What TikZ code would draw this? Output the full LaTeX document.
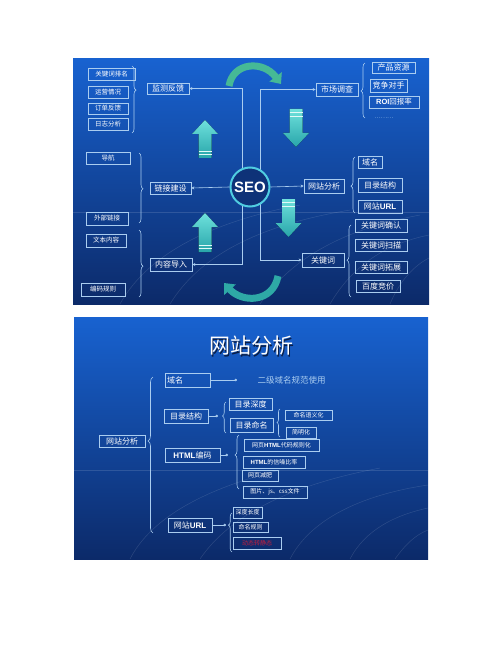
\documentclass[tikz,border=0pt]{standalone}
\usepackage{fontspec}
\setmainfont{Noto Sans CJK SC}
\newfontfamily\latinb{Liberation Sans}
\usetikzlibrary{arrows.meta,decorations.pathreplacing}
\definecolor{slideTop}{RGB}{24,98,208}
\definecolor{slideBot}{RGB}{12,42,105}
\definecolor{boxline}{RGB}{170,205,240}
\definecolor{arrowA}{RGB}{110,225,220}
\definecolor{arrowB}{RGB}{40,165,170}
\definecolor{curveA}{RGB}{70,185,150}
\definecolor{seofill}{RGB}{14,50,120}
\definecolor{seoline}{RGB}{80,205,225}
\definecolor{redtext}{RGB}{200,30,60}
\definecolor{titleshadow}{RGB}{10,30,70}
\begin{document}
\begin{tikzpicture}[x=1pt,y=-1pt,
  bx/.style 2 args={draw=boxline, line width=0.7pt, text=white, inner sep=0pt,
     minimum width=#1pt, minimum height=#2pt},
  fs/.style={font=\fontsize{6.5}{7}\selectfont},
  fm/.style={font=\fontsize{8}{9}\selectfont},
  fx/.style={font=\fontsize{6}{7}\selectfont},
  conn/.style={draw=boxline, line width=0.6pt},
  arr/.style={conn, -{Stealth[length=3pt,width=3pt]}},
  arrboth/.style={conn, {Stealth[length=3pt,width=3pt]}-{Stealth[length=3pt,width=3pt]}},
  dotarr/.style={conn, -{Circle[length=2.5pt]}},
  brc/.style={draw=boxline, line width=0.6pt, decorate, decoration={brace, amplitude=#1pt}},
  blk/.style={top color=arrowA, bottom color=arrowB, draw=none},
  stripe/.style={draw=white!80!arrowA, line width=0.8pt},
  curv/.style={draw=curveA, line width=7pt, -{Triangle[length=9pt,width=15pt]}},
  faint/.style={draw=white, opacity=0.13, line width=0.5pt}
]
\path[use as bounding box, fill=white] (0,0) rectangle (500,647);

% ================= TOP SLIDE =================
\fill[top color=slideTop, bottom color=slideBot] (73,59) rectangle (429,304);
\begin{scope}
\clip (73,59) rectangle (429,304);
\draw[faint] (73,212) -- (429,212);
\draw[faint] (120,304) .. controls (150,250) and (220,220) .. (300,205);
\draw[faint] (170,304) .. controls (200,255) and (260,225) .. (350,210);
\draw[faint] (260,304) .. controls (290,260) and (340,230) .. (420,215);
\draw[faint] (330,304) .. controls (350,270) and (380,245) .. (429,235);
\draw[faint] (390,304) .. controls (400,280) and (415,265) .. (429,258);
\end{scope}

% left groups
\node[bx={47}{12}, fs] (kw1) at (111.5,74) {关键词排名};
\node[bx={40}{12}, fs] (yy) at (108,92) {运营情况};
\node[bx={40}{11}, fs] (dd) at (108,108.5) {订单反馈};
\node[bx={40}{12}, fs] (rz) at (108,124) {日志分析};
\node[bx={42}{11}, fm] (jc) at (168,88.5) {监测反馈};

\node[bx={44}{12}, fs] (dh) at (108,158) {导航};
\node[bx={41}{12}, fm] (lj) at (170.5,188) {链接建设};
\node[bx={42}{13}, fs] (wb) at (107,218.5) {外部链接};
\node[bx={40}{13}, fs] (wbnr) at (106,240.5) {文本内容};
\node[bx={42}{13}, fm] (nr) at (171,264.5) {内容导入};
\node[bx={44}{13}, fs] (bm) at (103,289.5) {编码规则};

\draw[brc=4, decoration={aspect=0.36}] (132,66) -- (132,133);
\draw[brc=4, decoration={aspect=0.51}] (139,153) -- (139,223);
\draw[brc=4, decoration={aspect=0.54}] (139,230) -- (139,297);

% right groups
\node[bx={42}{13}, fm] (sc) at (337,89.5) {市场调查};
\node[bx={43}{11}, fm] (cp) at (393.5,67.5) {产品资源};
\node[bx={37}{13}, fm] (jz) at (388.5,85.5) {竞争对手};
\node[bx={50}{12}, font=\fontsize{7.5}{8}\selectfont] (roi) at (394,102) {{\latinb\bfseries ROI}回报率};
\node[text=boxline, fx] (dots) at (384,118) {………};
\draw[brc=4, decoration={aspect=0.49}] (365,118) -- (365,63);

\node[bx={40}{14}, fm] (wz) at (324,186) {网站分析};
\node[bx={24}{12}, fm] (ym) at (370,162) {域名};
\node[bx={44}{14}, fm] (ml) at (380,185) {目录结构};
\node[bx={44}{13}, fm] (url) at (380,206.5) {网站{\latinb\bfseries URL}};
\draw[brc=4, decoration={aspect=0.48}] (355,213) -- (355,157);

\node[bx={42}{14}, fm] (gjc) at (323,260) {关键词};
\node[bx={52}{13}, fm] (qr) at (381,225.5) {关键词确认};
\node[bx={52}{12}, fm] (sm) at (381,245) {关键词扫描};
\node[bx={52}{12}, fm] (tz) at (381,267) {关键词拓展};
\node[bx={44}{12}, fm] (bd) at (378,286) {百度竞价};
\draw[brc=4, decoration={aspect=0.51}] (351,297) -- (351,225);

% frame lines
\coordinate (Ltop) at (242,88.5);
\coordinate (Lbot) at (242,264.5);
\coordinate (Rtop) at (260,89.5);
\coordinate (Rbot) at (260,260);
\draw[arrboth] (jc.east) -- (Ltop) -- (Lbot) -- (nr.east);
\draw[arrboth] (sc.west) -- (Rtop) -- (Rbot) -- (gjc.west);

% SEO centre
\node[circle, draw=seoline, line width=2pt, fill=seofill, minimum size=39pt, inner sep=0pt,
      text=white, font=\latinb\bfseries\fontsize{15}{15}\selectfont] (seo) at (250,187) {SEO};
\draw[arr] (seo.west) -- (lj.east);
\draw[arr] (seo.east) -- (wz.west);

% block arrows
\fill[blk] (198.5,158) -- (198.5,134) -- (192,134) -- (205,120) -- (218,134) -- (211.5,134) -- (211.5,158) -- cycle;
\draw[stripe] (198.5,151) -- (211.5,151) (198.5,154.5) -- (211.5,154.5);
\fill[blk] (198.5,252) -- (198.5,227) -- (192,227) -- (205,213) -- (218,227) -- (211.5,227) -- (211.5,252) -- cycle;
\draw[stripe] (198.5,245) -- (211.5,245) (198.5,248.5) -- (211.5,248.5);
\fill[blk] (289.5,109) -- (289.5,133) -- (283,133) -- (296,147) -- (309,133) -- (302.5,133) -- (302.5,109) -- cycle;
\draw[stripe] (289.5,112.5) -- (302.5,112.5) (289.5,116) -- (302.5,116);
\fill[blk] (282,199) -- (282,223) -- (275.5,223) -- (288.5,237) -- (301.5,223) -- (295,223) -- (295,199) -- cycle;
\draw[stripe] (282,202.5) -- (295,202.5) (282,206) -- (295,206);

% curved arrows
\draw[curv] (229,86) .. controls (233,62) and (263,60) .. (281,84);
\draw[curv, draw=arrowB!80!curveA] (278,276) .. controls (273,303) and (242,303) .. (224,283);

% ================= BOTTOM SLIDE =================
\fill[top color=slideTop, bottom color=slideBot] (74,317) rectangle (428,559);
\begin{scope}
\clip (74,317) rectangle (428,559);
\draw[faint] (74,470) -- (428,470);
\draw[faint] (130,559) .. controls (150,520) and (200,490) .. (280,470);
\draw[faint] (200,559) .. controls (230,515) and (290,485) .. (380,468);
\draw[faint] (290,559) .. controls (310,520) and (360,495) .. (428,485);
\draw[faint] (350,559) .. controls (365,530) and (395,515) .. (428,508);
\draw[faint] (395,559) .. controls (405,545) and (415,535) .. (428,530);
\end{scope}

\node[text=titleshadow, font=\fontsize{21}{21}\selectfont] (ttlsh) at (252.8,347.3) {网站分析};
\node[text=white, font=\fontsize{21}{21}\selectfont] (ttl) at (251.5,346) {网站分析};

\node[bx={46}{12}, fm] (wzfx) at (122,441) {网站分析};
\draw[brc=5, decoration={aspect=0.59}] (153,533) -- (153,377);

\node[bx={45}{14}, fm, text width=41pt, align=left] (ym2) at (187.5,380) {域名};
\coordinate (ymdot) at (237,380);
\draw[dotarr] (ym2.east) -- (ymdot);
\node[text=boxline, font=\fontsize{8.5}{9}\selectfont, anchor=west] (ymtxt) at (254,380) {二级域名规范使用};

\node[bx={44}{14}, fm] (mljg) at (186,416) {目录结构};
\coordinate (mldot) at (218,416);
\draw[dotarr] (mljg.east) -- (mldot);
\draw[brc=3.5, decoration={aspect=0.55}] (226,433) -- (226,402);
\node[bx={43}{12}, fm] (mlsd) at (250.5,404) {目录深度};
\node[bx={43}{14}, fm] (mlmm) at (251.5,425) {目录命名};
\draw[brc=3, decoration={aspect=0.52}] (280,437) -- (280,409);
\node[bx={47}{10}, fx] (mmyy) at (308.5,415) {命名语义化};
\node[bx={30}{11}, fx] (jmh) at (301,432.5) {简明化};

\node[bx={55}{14}, fm] (htm) at (192.5,455) {{\latinb\bfseries HTML}编码};
\coordinate (htmdot) at (228,455);
\draw[dotarr] (htm.east) -- (htmdot);
\draw[brc=4, decoration={aspect=0.63}] (239,489) -- (239,435);
\node[bx={75}{12}, fx] (h1) at (281.5,445) {网页{\latinb\bfseries HTML}代码规则化};
\node[bx={62}{12}, fx] (h2) at (274,462) {{\latinb\bfseries HTML}的信噪比率};
\node[bx={36}{11}, fx] (h3) at (260,475.5) {网页减肥};
\node[bx={64}{12}, fx] (h4) at (275,492) {图片、js、css文件};

\node[bx={44}{14}, fm] (urlb) at (190,525) {网站{\latinb\bfseries URL}};
\coordinate (urldot) at (226,525);
\draw[dotarr] (urlb.east) -- (urldot);
\draw[brc=3.5, decoration={aspect=0.69}] (232,552) -- (232,513);
\node[bx={29}{11}, fx] (u1) at (247.5,512.5) {深度长度};
\node[bx={35}{10}, fx] (u2) at (250.5,527) {命名规则};
\node[bx={48}{12}, fx, text=redtext] (u3) at (257,543) {动态转静态};
\end{tikzpicture}
\end{document}
